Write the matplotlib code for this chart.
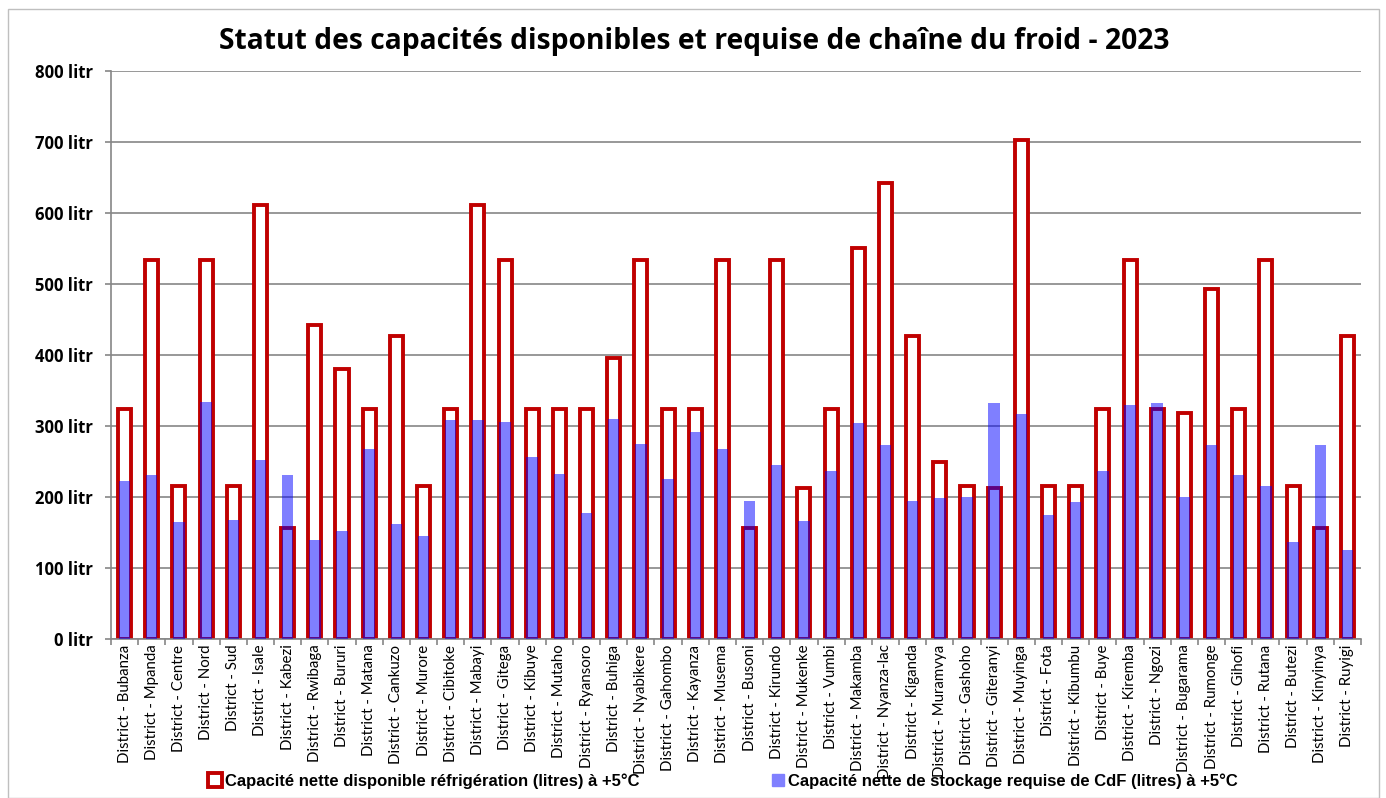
import numpy as np
import matplotlib.pyplot as plt
from matplotlib.patches import Rectangle
from matplotlib.lines import Line2D
from matplotlib.ticker import FixedLocator

districts = ["Bubanza", "Mpanda", "Centre", "Nord", "Sud", "Isale", "Kabezi", "Rwibaga",
             "Bururi", "Matana", "Cankuzo", "Murore", "Cibitoke", "Mabayi", "Gitega", "Kibuye",
             "Mutaho", "Ryansoro", "Buhiga", "Nyabikere", "Gahombo", "Kayanza", "Musema",
             "Busoni", "Kirundo", "Mukenke", "Vumbi", "Makamba", "Nyanza-lac", "Kiganda",
             "Muramvya", "Gashoho", "Giteranyi", "Muyinga", "Fota", "Kibumbu", "Buye",
             "Kiremba", "Ngozi", "Bugarama", "Rumonge", "Gihofi", "Rutana", "Butezi",
             "Kinyinya", "Ruyigi"]
labels = ["District - " + d for d in districts]

# capacite nette disponible refrigeration (litres)
disponible = [324, 534, 216, 534, 216, 611, 157, 442, 380, 324, 427, 216, 324, 611, 534, 324,
              324, 324, 396, 534, 324, 324, 534, 157, 534, 212, 324, 551, 642, 427,
              250, 216, 212, 703, 216, 216, 324, 534, 324, 319, 493, 324, 534, 216,
              157, 427]
# capacite nette de stockage requise (litres)
requise = [222, 231, 165, 334, 168, 252, 231, 139, 152, 268, 162, 145, 308, 309, 306, 256,
           233, 178, 310, 275, 225, 292, 268, 195, 245, 166, 237, 304, 273, 194,
           198, 200, 332, 317, 174, 193, 236, 330, 332, 200, 273, 231, 216, 137,
           273, 126]

x = np.arange(len(districts))

fig = plt.figure(figsize=(13.86, 7.98), dpi=100)
ax = fig.add_axes([111 / 1386, 1 - 639 / 798, 1250 / 1386, 568 / 798])

ax.bar(x, disponible, width=0.48, facecolor='white', edgecolor='#C00000', linewidth=2.8,
       zorder=2)
ax.bar(x, requise, width=0.42, color='#0000FF', alpha=0.5, linewidth=0, zorder=3)

ax.set_xlim(-0.5, len(districts) - 0.5)
ax.set_ylim(0, 800)
ax.set_yticks(range(0, 801, 100))
ax.set_yticklabels([f"{v} litr" for v in range(0, 801, 100)], fontsize=12,
                   fontweight='bold', family='Open Sans')
ax.yaxis.grid(True, color='#868686', linewidth=1.2, zorder=0)
ax.set_axisbelow(True)

ax.set_xticks(x)
ax.set_xticklabels(labels, rotation=90, fontsize=10.8, family='Lato')
ax.tick_params(axis='x', which='major', length=0, pad=4)
ax.xaxis.set_minor_locator(FixedLocator(np.arange(-0.5, len(districts), 1)))
ax.tick_params(axis='x', which='minor', length=4, color='#868686', width=1.2)
ax.tick_params(axis='y', length=4, color='#868686', width=1.2, pad=9)

for s in ['top', 'right']:
    ax.spines[s].set_visible(False)
for s in ['left', 'bottom']:
    ax.spines[s].set_color('#868686')
    ax.spines[s].set_linewidth(1.2)

fig.text(694 / 1386, 1 - 42 / 798,
         "Statut des capacités disponibles et requise de chaîne du froid - 2023",
         ha='center', va='center', fontsize=20.3, fontweight='bold', family='Open Sans')

handles = [
    Line2D([], [], marker='s', linestyle='none', markersize=10, markerfacecolor='white',
           markeredgecolor='#C00000', markeredgewidth=2.8),
    Line2D([], [], marker='s', linestyle='none', markersize=9, markerfacecolor='#8080FF',
           markeredgecolor='#8080FF'),
]
fig.legend(handles,
           ["Capacité nette disponible réfrigération (litres) à +5°C",
            "Capacité nette de stockage requise de CdF (litres) à +5°C"],
           loc='center', bbox_to_anchor=(722 / 1386, 1 - 781 / 798), ncol=2,
           frameon=False, handletextpad=0.1, columnspacing=7.8, handlelength=1,
           prop={'family': 'Liberation Sans', 'weight': 'bold', 'size': 12})

fig.patches.append(Rectangle((8 / 1386, 0), 1371 / 1386, 1 - 9 / 798,
                             transform=fig.transFigure, fill=False,
                             edgecolor='#BFBFBF', linewidth=1))

fig.savefig('out.png', dpi=100)
